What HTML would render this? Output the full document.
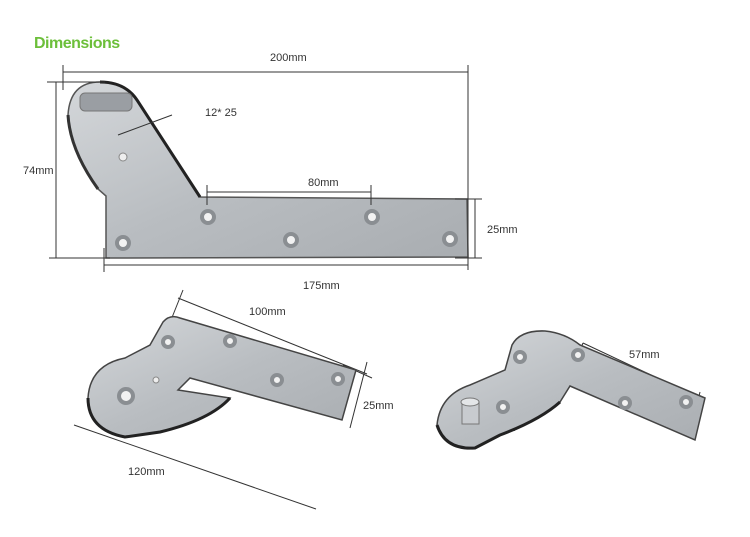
<!DOCTYPE html>
<html><head><meta charset="utf-8"><style>
html,body{margin:0;padding:0;background:#fff;}
svg{display:block;font-family:"Liberation Sans",sans-serif;}
</style></head><body>
<svg width="750" height="537" viewBox="0 0 750 537" xmlns="http://www.w3.org/2000/svg">
<defs>
<linearGradient id="m" x1="0" y1="0" x2="1" y2="1">
<stop offset="0" stop-color="#d4d7da"/><stop offset="0.5" stop-color="#b9bdc1"/><stop offset="1" stop-color="#a9adb1"/>
</linearGradient>
</defs>
<text x="34" y="48" font-size="16" fill="#6cbf3a" font-weight="bold" letter-spacing="-0.5">Dimensions</text>

<!-- top bracket -->
<path d="M106,258 L106,196 L98,189 Q70,150 68,115 Q70,82 100,82 Q125,82 137,100 L200,197 L467,199 L468,257 Z" fill="url(#m)" stroke="#555" stroke-width="1.5"/>
<path d="M100,82 Q125,82 137,100 L200,197" fill="none" stroke="#222" stroke-width="3"/>
<path d="M68,115 Q70,150 98,189" fill="none" stroke="#333" stroke-width="3"/>
<rect x="80" y="93" width="52" height="18" rx="5" fill="#9a9ea3" stroke="#777"/>
<circle cx="123" cy="157" r="4" fill="#eee" stroke="#888"/>
<g fill="#f2f2f2" stroke="#8a8e92" stroke-width="4">
<circle cx="208" cy="217" r="6"/><circle cx="372" cy="217" r="6"/><circle cx="123" cy="243" r="6"/><circle cx="291" cy="240" r="6"/><circle cx="450" cy="239" r="6"/>
</g>

<g stroke="#333" stroke-width="1" fill="none">
<line x1="63" y1="72" x2="468" y2="72"/><line x1="63" y1="65" x2="63" y2="90"/><line x1="468" y1="65" x2="468" y2="270"/>
<line x1="56" y1="82" x2="56" y2="258"/><line x1="47" y1="82" x2="105" y2="82"/><line x1="49" y1="258" x2="110" y2="258"/>
<line x1="104" y1="265" x2="468" y2="265"/><line x1="104" y1="248" x2="104" y2="272"/>
<line x1="455" y1="199" x2="482" y2="199"/><line x1="455" y1="258" x2="482" y2="258"/><line x1="475" y1="199" x2="475" y2="258"/>
<line x1="207" y1="192" x2="371" y2="192"/><line x1="207" y1="185" x2="207" y2="205"/><line x1="371" y1="185" x2="371" y2="205"/>
<line x1="172" y1="115" x2="118" y2="135"/>
<line x1="183" y1="290" x2="165" y2="335"/><line x1="178" y1="298" x2="367" y2="374"/><line x1="367" y1="362" x2="350" y2="428"/><line x1="343" y1="365" x2="372" y2="378"/>
<line x1="74" y1="425" x2="316" y2="509"/>
<line x1="583" y1="343" x2="700" y2="398"/><line x1="583" y1="343" x2="578" y2="355"/><line x1="700" y1="392" x2="697" y2="405"/>
</g>
<g font-size="11" fill="#333">
<text x="270" y="61">200mm</text>
<text x="23" y="174">74mm</text>
<text x="205" y="116">12* 25</text>
<text x="308" y="186">80mm</text>
<text x="487" y="233">25mm</text>
<text x="303" y="289">175mm</text>
<text x="249" y="315">100mm</text>
<text x="363" y="409">25mm</text>
<text x="128" y="475">120mm</text>
<text x="629" y="358">57mm</text>
<text x="456" y="401">12mm</text>
<text x="485" y="431">25mm</text>
</g>

<!-- bottom-left bracket -->
<path d="M150,345 L163,322 Q170,314 180,318 L356,370 L342,420 L190,378 L178,390 L230,398 Q210,420 160,432 L125,437 Q88,430 88,398 Q90,365 125,358 L150,345 Z" fill="url(#m)" stroke="#444" stroke-width="1.5"/>
<path d="M230,398 Q210,420 160,432 L125,437 Q88,430 88,398" fill="none" stroke="#222" stroke-width="3"/>
<g fill="#f2f2f2" stroke="#8a8e92" stroke-width="4">
<circle cx="168" cy="342" r="5"/><circle cx="230" cy="341" r="5"/><circle cx="277" cy="380" r="5"/><circle cx="338" cy="379" r="5"/><circle cx="126" cy="396" r="7"/>
</g>
<circle cx="156" cy="380" r="3" fill="#eee" stroke="#888"/>

<!-- right bracket -->
<path d="M505,370 L512,345 Q520,330 545,331 Q565,333 580,345 L705,398 L695,440 L570,386 L560,402 Q540,420 500,435 L475,448 Q445,450 437,425 Q440,395 470,385 L505,370 Z" fill="url(#m)" stroke="#444" stroke-width="1.5"/>
<path d="M560,402 Q540,420 500,435 L475,448 Q445,450 437,425" fill="none" stroke="#222" stroke-width="3"/>
<g fill="#f2f2f2" stroke="#8a8e92" stroke-width="4">
<circle cx="520" cy="357" r="5"/><circle cx="578" cy="355" r="5"/><circle cx="503" cy="407" r="5"/><circle cx="625" cy="403" r="5"/><circle cx="686" cy="402" r="5"/>
</g>
<rect x="462" y="402" width="17" height="22" fill="#c8cbcf" stroke="#777"/>
<ellipse cx="470" cy="402" rx="9" ry="4" fill="#e4e6e8" stroke="#777"/>
</svg>
</body></html>
